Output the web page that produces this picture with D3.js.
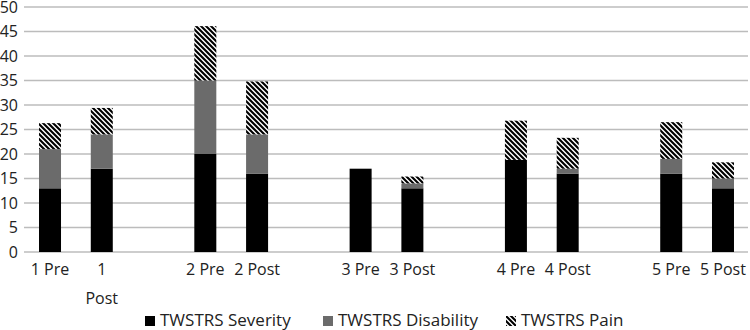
<!DOCTYPE html>
<html><head><meta charset="utf-8">
<script src="https://cdn.jsdelivr.net/npm/d3@7/dist/d3.min.js"></script>
<style>
html,body{margin:0;padding:0;background:#fff;}
svg{display:block;}
text{font-family:"Open Sans",sans-serif;}
</style></head>
<body>
<script>
// Data
const categories = ["1 Pre","1\nPost","","2 Pre","2 Post","","3 Pre","3 Post","","4 Pre","4 Post","","5 Pre","5 Post"];
const severity   = [13, 17, null, 20, 16, null, 17, 13, null, 18.8, 16, null, 16, 13];
const disability = [8, 7, null, 15, 8, null, 0, 1, null, 0, 1, null, 3, 2];
const pain       = [5.3, 5.4, null, 11.1, 10.8, null, 0, 1.4, null, 8, 6.3, null, 7.5, 3.3];
const yTicks = [0,5,10,15,20,25,30,35,40,45,50];
const seriesNames = ["TWSTRS Severity","TWSTRS Disability","TWSTRS Pain"];

const W = 750, H = 330;
const margin = {left:24, right:1, top:7, bottom:78};
const svg = d3.select("body").append("svg").attr("width",W).attr("height",H);

const defs = svg.append("defs");
const pat = defs.append("pattern").attr("id","stripes").attr("patternUnits","userSpaceOnUse")
  .attr("width",5).attr("height",5);
pat.append("rect").attr("width",5).attr("height",5).attr("fill","#fff");
pat.append("path").attr("d","M0,0 L5,5 M-2.5,2.5 L2.5,7.5 M2.5,-2.5 L7.5,2.5")
  .attr("stroke","#000").attr("stroke-width",2.1);

const x = d3.scaleBand().domain(d3.range(categories.length))
  .range([margin.left, W - margin.right]).paddingInner(0.575).paddingOuter(0.29);
const y = d3.scaleLinear().domain([0,50]).range([252, margin.top]);

// gridlines
svg.append("g").selectAll("line").data(yTicks).join("line")
  .attr("x1",margin.left).attr("x2",748)
  .attr("y1",d=>y(d)).attr("y2",d=>y(d))
  .attr("stroke","#bcbcbc").attr("stroke-width",1.6);

// y axis labels
const yAxis = d3.axisLeft(y).tickValues(yTicks).tickSize(0).tickPadding(6);
const gy = svg.append("g").attr("transform",`translate(${margin.left},0)`).call(yAxis);
gy.select(".domain").remove();
gy.selectAll("text").attr("font-size",16).attr("fill","#222").attr("font-family","Open Sans, sans-serif");

// stacked bars
const rows = categories.map((c,i)=>({i, s:severity[i], d:disability[i], p:pain[i]}));
const stack = d3.stack().keys(["s","d","p"]).value((r,k)=>r[k]||0);
const layers = stack(rows.filter(r=>r.s!==null));
const fills = ["#000","#6b6b6b","url(#stripes)"];
svg.append("g").selectAll("g").data(layers).join("g")
  .attr("fill",(d,i)=>fills[i])
  .selectAll("rect").data(d=>d.filter(v=>v[1]-v[0]>0)).join("rect")
  .attr("x",d=>x(d.data.i)).attr("width",x.bandwidth())
  .attr("y",d=>y(d[1])).attr("height",d=>y(d[0])-y(d[1]));

// x labels
const gx = svg.append("g");
categories.forEach((c,i)=>{
  if(!c) return;
  const lines = c.split("\n");
  const t = gx.append("text").attr("text-anchor","middle").attr("font-size",16).attr("fill","#222")
    .attr("x", x(i)+x.bandwidth()/2).attr("y", 275);
  lines.forEach((l,j)=>{
    t.append("tspan").attr("x", x(i)+x.bandwidth()/2).attr("dy", j===0?0:29).text(l);
  });
});

// legend
const legX = [145, 323, 506];
const lg = svg.append("g");
seriesNames.forEach((n,i)=>{
  lg.append("rect").attr("x",legX[i]).attr("y",316).attr("width",10).attr("height",10).attr("fill",fills[i]);
  lg.append("text").attr("x",legX[i]+15).attr("y",326).attr("font-size",17).attr("fill","#222").text(n);
});
</script>
</body></html>
